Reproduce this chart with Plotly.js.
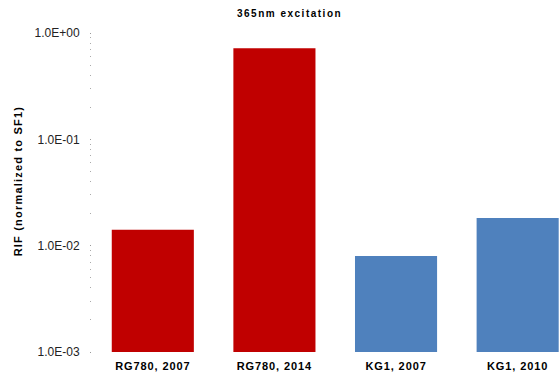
<!DOCTYPE html>
<html>
<head>
<meta charset="utf-8">
<script src="https://cdn.plot.ly/plotly-3.0.1.min.js"></script>
<style>
html,body{margin:0;padding:0;background:#fff;}
#chart{width:559px;height:376px;}
#chart text.gtitle{letter-spacing:1.5px;}
#chart g.xtick text{letter-spacing:0.9px;}
#chart text.annotation-text{letter-spacing:1.2px;}
</style>
</head>
<body>
<div id="chart"></div>
<script>
const categories = ["RG780, 2007", "RG780, 2014", "KG1, 2007", "KG1, 2010"];
const values = [0.0141, 0.72, 0.0080, 0.0182];
const barColors = ["#C00000", "#C00000", "#4F81BD", "#4F81BD"];
const tickVals = [0.001, 0.01, 0.1, 1];
const tickText = ["1.0E-03", "1.0E-02", "1.0E-01", "1.0E+00"];

const trace = {
  type: "bar",
  x: categories,
  y: values,
  marker: {color: barColors, line: {width: 0}},
  hoverinfo: "x+y"
};

const layout = {
  width: 559, height: 376,
  margin: {l: 92, r: 0, t: 33, b: 24, pad: 0},
  paper_bgcolor: "#fff", plot_bgcolor: "#fff",
  bargap: 0.325,
  font: {family: "Liberation Sans, Arial, sans-serif", color: "#000"},
  title: {text: "<b>365nm excitation</b>", font: {size: 10, color: "#000"},
          x: 0.518, xref: "container", y: 0.965, yref: "container", xanchor: "center", yanchor: "middle"},
  xaxis: {
    type: "category",
    range: [-0.5, 3.34],
    showgrid: false, zeroline: false, showline: false, ticks: "",
    ticklabelstandoff: 6,
    tickfont: {size: 11, color: "#000", family: "Liberation Sans, Arial, sans-serif", weight: "bold"},
    fixedrange: true
  },
  yaxis: {
    type: "log",
    range: [-3, 0],
    tickvals: tickVals, ticktext: tickText,
    showgrid: false, zeroline: false, showline: false,
    ticks: "outside", ticklen: 1, tickwidth: 1, tickcolor: "#999",
    ticklabelstandoff: 8,
    tickfont: {size: 12, color: "#222"},
    minor: {ticks: "outside", ticklen: 1, tickwidth: 1, tickcolor: "#aaa", dtick: "D1", showgrid: false},
    fixedrange: true
  },
  annotations: [{
    text: "<b>RIF (normalized to SF1)</b>",
    xref: "paper", yref: "paper", x: -0.158, y: 0.535,
    xanchor: "center", yanchor: "middle",
    textangle: -90, showarrow: false,
    font: {size: 11, color: "#000"}
  }],
  showlegend: false
};

Plotly.newPlot("chart", [trace], layout, {displayModeBar: false, staticPlot: true});
</script>
</body>
</html>
